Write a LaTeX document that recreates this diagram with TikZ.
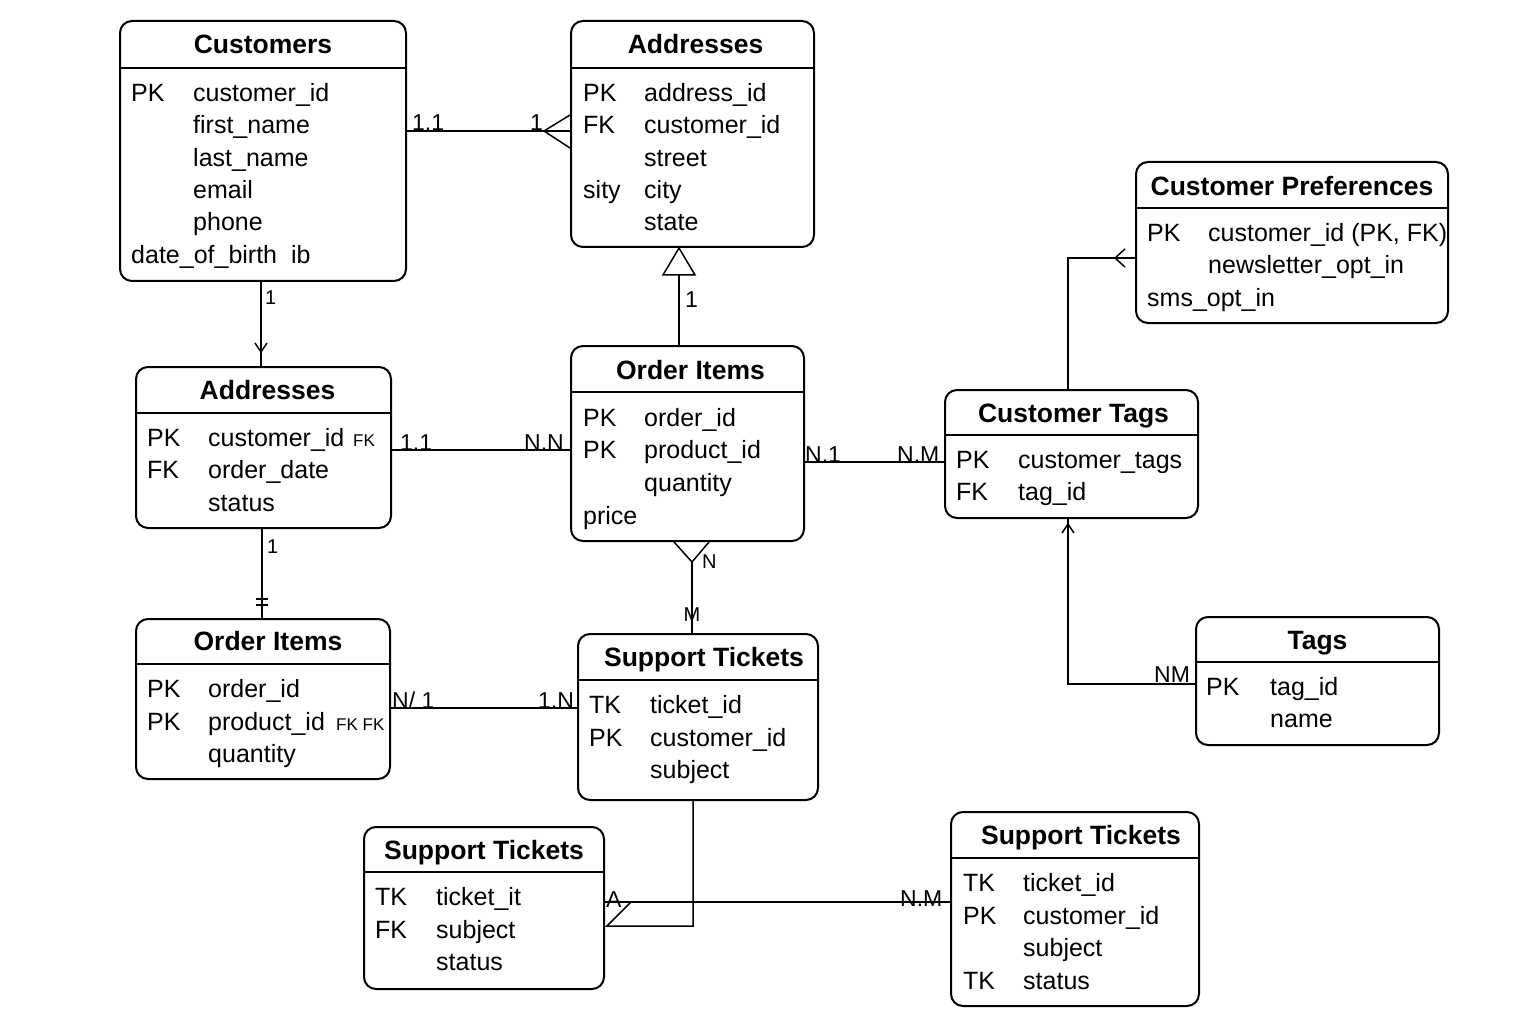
\documentclass[tikz,border=0pt]{standalone}
\usepackage{fontspec}
\setmainfont{Liberation Sans}
\usetikzlibrary{calc,positioning,arrows.meta}
\tikzset{
  tbl/.style={draw, line width=2pt, rounded corners=12pt, anchor=north west, inner sep=0pt},
  sepline/.style={line width=1.6pt},
  ttl/.style={anchor=base, font=\fontsize{26.5}{30}\selectfont\bfseries, inner sep=0pt},
  fld/.style={anchor=base west, font=\fontsize{25}{30}\selectfont, inner sep=0pt},
  lbl/.style={anchor=base west, font=\fontsize{23}{26}\selectfont, inner sep=0pt},
  slbl/.style={anchor=base west, font=\fontsize{20}{22}\selectfont, inner sep=0pt},
  fktag/.style={anchor=base west, font=\fontsize{17}{19}\selectfont, inner sep=0pt},
  conn/.style={line width=1.5pt}
}

\begin{document}
\begin{tikzpicture}[x=1pt,y=-1pt]
  \fill[white] (0,0) rectangle (1536,1024);
  \useasboundingbox (0,0) rectangle (1536,1024);

  % tables
  \node[tbl, minimum width=286pt, minimum height=260pt] (cust) at (119,20) {};
  \draw[sepline] (cust.west |- 0,68) -- (cust.east |- 0,68);
  \node[ttl] (custT) at (cust.north |- 0,54) {Customers};
  \node[fld] (cust1k) at (131,102) {PK};
  \node[fld] (cust1) at (193,102) {customer\_id};
  \node[fld] (cust2) at (193,134) {first\_name};
  \node[fld] (cust3) at (193,167) {last\_name};
  \node[fld] (cust4) at (193,199) {email};
  \node[fld] (cust5) at (193,231) {phone};
  \node[fld] (cust6) at (131,264) {date\_of\_birth\ \ ib};

  \node[tbl, minimum width=243pt, minimum height=226pt] (addrA) at (570,20) {};
  \draw[sepline] (addrA.west |- 0,68) -- (addrA.east |- 0,68);
  \node[ttl] (addrAT) at ([xshift=3pt]addrA.north |- 0,54) {Addresses};
  \node[fld] (addrA1k) at (583,102) {PK};
  \node[fld] (addrA1) at (644,102) {address\_id};
  \node[fld] (addrA2k) at (583,134) {FK};
  \node[fld] (addrA2) at (644,134) {customer\_id};
  \node[fld] (addrA3) at (644,167) {street};
  \node[fld] (addrA4k) at (583,199) {sity};
  \node[fld] (addrA4) at (644,199) {city};
  \node[fld] (addrA5) at (644,231) {state};

  \node[tbl, minimum width=312pt, minimum height=161pt] (pref) at (1135,161) {};
  \draw[sepline] (pref.west |- 0,208) -- (pref.east |- 0,208);
  \node[ttl] (prefT) at (pref.north |- 0,196) {Customer Preferences};
  \node[fld] (pref1k) at (1147,242) {PK};
  \node[fld] (pref1) at (1208,242) {customer\_id (PK, FK)};
  \node[fld] (pref2) at (1208,274) {newsletter\_opt\_in};
  \node[fld] (pref3) at (1147,306) {sms\_opt\_in};

  \node[tbl, minimum width=255pt, minimum height=161pt] (addrB) at (135,366) {};
  \draw[sepline] (addrB.west |- 0,413) -- (addrB.east |- 0,413);
  \node[ttl] (addrBT) at ([xshift=4pt]addrB.north |- 0,399) {Addresses};
  \node[fld] (addrB1k) at (147,446) {PK};
  \node[fld] (addrB1) at (208,446) {customer\_id};
  \node[fktag] (addrB1f) at (353,446) {FK};
  \node[fld] (addrB2k) at (147,478) {FK};
  \node[fld] (addrB2) at (208,478) {order\_date};
  \node[fld] (addrB3) at (208,511) {status};

  \node[tbl, minimum width=233pt, minimum height=195pt] (itemA) at (570,345) {};
  \draw[sepline] (itemA.west |- 0,392) -- (itemA.east |- 0,392);
  \node[ttl] (itemAT) at ([xshift=3pt]itemA.north |- 0,379) {Order Items};
  \node[fld] (itemA1k) at (583,426) {PK};
  \node[fld] (itemA1) at (644,426) {order\_id};
  \node[fld] (itemA2k) at (583,458) {PK};
  \node[fld] (itemA2) at (644,458) {product\_id};
  \node[fld] (itemA3) at (644,491) {quantity};
  \node[fld] (itemA4) at (583,524) {price};

  \node[tbl, minimum width=253pt, minimum height=128pt] (ctag) at (944,389) {};
  \draw[sepline] (ctag.west |- 0,435) -- (ctag.east |- 0,435);
  \node[ttl] (ctagT) at ([xshift=2pt]ctag.north |- 0,422) {Customer Tags};
  \node[fld] (ctag1k) at (956,468) {PK};
  \node[fld] (ctag1) at (1018,468) {customer\_tags};
  \node[fld] (ctag2k) at (956,500) {FK};
  \node[fld] (ctag2) at (1018,500) {tag\_id};

  \node[tbl, minimum width=254pt, minimum height=160pt] (itemB) at (135,618) {};
  \draw[sepline] (itemB.west |- 0,664) -- (itemB.east |- 0,664);
  \node[ttl] (itemBT) at ([xshift=5pt]itemB.north |- 0,650) {Order Items};
  \node[fld] (itemB1k) at (147,697) {PK};
  \node[fld] (itemB1) at (208,697) {order\_id};
  \node[fld] (itemB2k) at (147,730) {PK};
  \node[fld] (itemB2) at (208,730) {product\_id};
  \node[fktag] (itemB2f) at (336,730) {FK FK};
  \node[fld] (itemB3) at (208,762) {quantity};

  \node[tbl, minimum width=240pt, minimum height=166pt] (tickA) at (577,633) {};
  \draw[sepline] (tickA.west |- 0,680) -- (tickA.east |- 0,680);
  \node[ttl] (tickAT) at ([xshift=6pt]tickA.north |- 0,666) {Support Tickets};
  \node[fld] (tickA1k) at (589,713) {TK};
  \node[fld] (tickA1) at (650,713) {ticket\_id};
  \node[fld] (tickA2k) at (589,746) {PK};
  \node[fld] (tickA2) at (650,746) {customer\_id};
  \node[fld] (tickA3) at (650,778) {subject};

  \node[tbl, minimum width=243pt, minimum height=128pt] (tags) at (1195,616) {};
  \draw[sepline] (tags.west |- 0,662) -- (tags.east |- 0,662);
  \node[ttl] (tagsT) at (tags.north |- 0,649) {Tags};
  \node[fld] (tags1k) at (1206,695) {PK};
  \node[fld] (tags1) at (1270,695) {tag\_id};
  \node[fld] (tags2) at (1270,727) {name};

  \node[tbl, minimum width=240pt, minimum height=162pt] (tickB) at (363,826) {};
  \draw[sepline] (tickB.west |- 0,872) -- (tickB.east |- 0,872);
  \node[ttl] (tickBT) at (tickB.north |- 0,859) {Support Tickets};
  \node[fld] (tickB1k) at (375,905) {TK};
  \node[fld] (tickB1) at (436,905) {ticket\_it};
  \node[fld] (tickB2k) at (375,938) {FK};
  \node[fld] (tickB2) at (436,938) {subject};
  \node[fld] (tickB3) at (436,970) {status};

  \node[tbl, minimum width=248pt, minimum height=194pt] (tickC) at (950,811) {};
  \draw[sepline] (tickC.west |- 0,858) -- (tickC.east |- 0,858);
  \node[ttl] (tickCT) at ([xshift=6pt]tickC.north |- 0,844) {Support Tickets};
  \node[fld] (tickC1k) at (963,891) {TK};
  \node[fld] (tickC1) at (1023,891) {ticket\_id};
  \node[fld] (tickC2k) at (963,924) {PK};
  \node[fld] (tickC2) at (1023,924) {customer\_id};
  \node[fld] (tickC3) at (1023,956) {subject};
  \node[fld] (tickC4k) at (963,989) {TK};
  \node[fld] (tickC4) at (1023,989) {status};

  % connectors
  \draw[conn] (cust.east |- 0,131) -- (addrA.west |- 0,131);
  \draw[conn] (addrA.west |- 0,115) -- (544,131) -- (addrA.west |- 0,148);
  \node[lbl] (ca1) at (412,131) {1.1};
  \node[lbl] (ca2) at (530,131) {1};

  \draw[conn] (itemA.north -| 679,0) -- (679,275);
  \draw[conn] (addrA.south -| 679,0) -- (663,275) -- (695,275) -- cycle;
  \node[lbl] (ai1) at (685,307) {1};

  \draw[conn] (cust.south -| 261,0) -- (addrB.north -| 261,0);
  \draw[conn] (255,343) -- (261,352) -- (267,343);
  \node[slbl] (cb1) at (265,305) {1};

  \draw[conn] (addrB.east |- 0,450) -- (itemA.west |- 0,450);
  \node[lbl] (bi1) at (400,450) {1.1};
  \node[lbl] (bi2) at (524,450) {N.N};

  \draw[conn] (addrB.south -| 262,0) -- (itemB.north -| 262,0);
  \draw[conn] (256,599) -- (268,599);
  \draw[conn] (256,605) -- (268,605);
  \node[slbl] (bb1) at (267,553) {1};

  \draw[conn] (itemA.east |- 0,462) -- (ctag.west |- 0,462);
  \node[lbl] (it1) at (805,462) {N.1};
  \node[lbl] (it2) at (897,462) {N.M};

  \draw[conn] (itemA.south -| 674,0) -- (692,562) -- (itemA.south -| 709,0);
  \draw[conn] (692,562) -- (tickA.north -| 692,0);
  \node[slbl] (ik1) at (702,568) {N};
  \node[slbl, anchor=base] (ik2) at (692,621) {M};

  \draw[conn] (ctag.north -| 1068,0) |- (pref.west |- 0,258);
  \draw[conn] (1125,249) -- (1115,258) -- (1125,267);

  \draw[conn] (tags.west |- 0,684) -| (ctag.south -| 1068,0);
  \draw[conn] (1062,533) -- (1068,524) -- (1074,533);
  \node[lbl] (tg1) at (1154,682) {NM};

  \draw[conn] (itemB.east |- 0,708) -- (tickA.west |- 0,708);
  \node[lbl] (ot1) at (392,708) {N/ 1};
  \node[lbl] (ot2) at (538,708) {1.N};

  \draw[conn] (tickB.east |- 0,902) -- (tickC.west |- 0,902);
  \draw[conn] (tickA.south -| 693,0) -- (693,926) -- (607,926) -- (631,902);
  \node[lbl] (tt1) at (606,907) {A};
  \node[lbl] (tt2) at (900,906) {N.M};
\end{tikzpicture}
\end{document}
